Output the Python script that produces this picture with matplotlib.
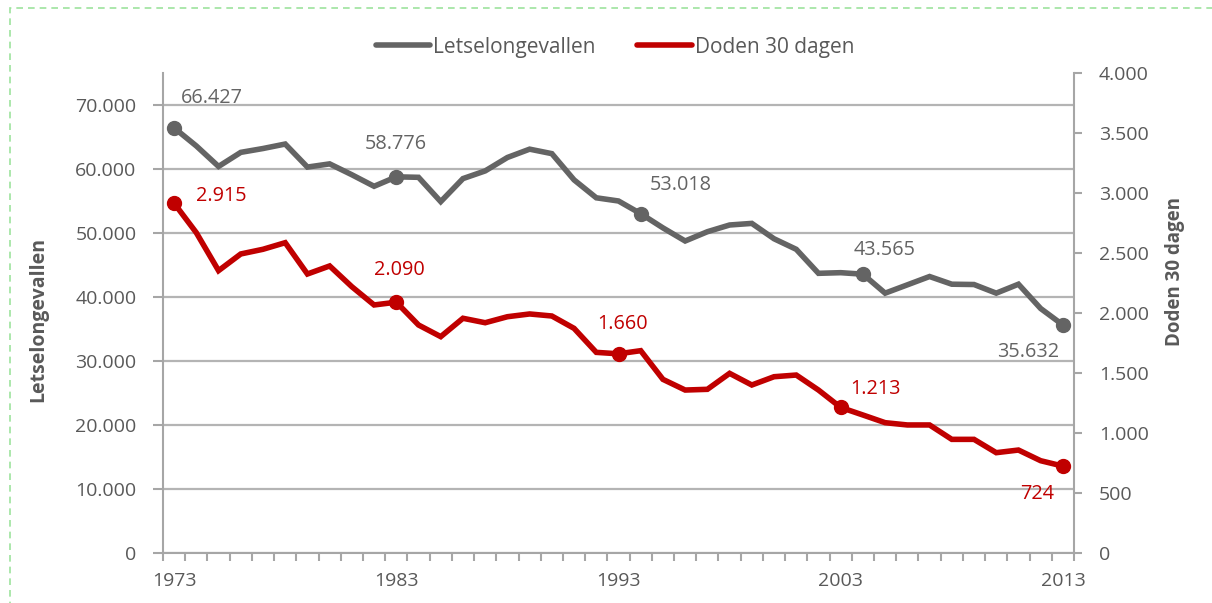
import matplotlib
matplotlib.use("Agg")
import matplotlib.pyplot as plt
from matplotlib.ticker import FuncFormatter, FixedLocator
from matplotlib.lines import Line2D
from matplotlib.patches import Rectangle

years = list(range(1973, 2014))
letsel = [66427, 63600, 60400, 62600, 63200, 63900, 60300, 60800, 59100, 57300,
          58776, 58700, 54900, 58500, 59700, 61800, 63100, 62400, 58300, 55500,
          55000, 53018, 50800, 48750, 50200, 51250, 51500, 49100, 47450, 43700,
          43800, 43565, 40600, 41900, 43200, 42000, 41950, 40600, 42000, 38200,
          35632]
doden = [2915, 2669, 2353, 2492, 2531, 2586, 2325, 2392, 2219, 2067,
         2090, 1900, 1803, 1956, 1919, 1969, 1992, 1975, 1872, 1672,
         1660, 1686, 1447, 1358, 1364, 1497, 1400, 1469, 1483, 1358,
         1213, 1150, 1086, 1067, 1067, 947, 947, 836, 858, 769,
         724]
label_years_letsel = [1973, 1983, 1994, 2004, 2013]
label_years_doden = [1973, 1983, 1993, 2003, 2013]
xtick_labels = [1973, 1983, 1993, 2003, 2013]
series_names = ["Letselongevallen", "Doden 30 dagen"]

GREY = "#646464"
RED = "#C00000"
TXT = "#595959"
AX = "#A6A6A6"
FONT = "Open Sans"
plt.rcParams['font.family'] = [FONT, 'DejaVu Sans']

W, H = 1212, 603
fig = plt.figure(figsize=(W / 100, H / 100), dpi=100)
ax = fig.add_axes([163 / W, 1 - 553 / H, (1074 - 163) / W, (553 - 73) / H])
ax2 = ax.twinx()

def dots(v, pos):
    return f"{int(round(v)):,}".replace(",", ".")

fmt = FuncFormatter(dots)

ax.set_xlim(1972.5, 2013.5)
ax.set_ylim(0, 75000)
ax2.set_ylim(0, 4000)
ax.yaxis.set_major_locator(FixedLocator(list(range(0, 70001, 10000))))
ax2.yaxis.set_major_locator(FixedLocator(list(range(0, 4001, 500))))
ax.yaxis.set_major_formatter(fmt)
ax2.yaxis.set_major_formatter(fmt)

ax.set_xticks(xtick_labels)
ax.set_xticklabels([str(y) for y in xtick_labels])
ax.set_xticks([1972.5 + k for k in range(42)], minor=True)
ax.tick_params(axis='x', which='major', length=0, pad=14, labelsize=14, labelcolor=TXT)
ax.tick_params(axis='x', which='minor', length=6, width=1.5, color=AX, direction='out')
ax.tick_params(axis='y', length=7, width=1.5, color=AX, pad=12, labelsize=14, labelcolor=TXT)
ax2.tick_params(axis='y', length=6, width=1.5, color=AX, pad=12, labelsize=14, labelcolor=TXT)

ax.grid(axis='y', color="#B4B4B4", linewidth=1.6)
ax.set_axisbelow(True)
for a in (ax, ax2):
    a.spines['top'].set_visible(False)
    for s in ('left', 'right', 'bottom'):
        a.spines[s].set_color(AX)
        a.spines[s].set_linewidth(1.5)
ax2.spines['left'].set_visible(False)
ax2.spines['bottom'].set_visible(False)
ax.spines['right'].set_visible(False)

ax.plot(years, letsel, color=GREY, linewidth=4.0, solid_joinstyle='miter', zorder=3)
ax2.plot(years, doden, color=RED, linewidth=4.0, solid_joinstyle='miter', zorder=3)

lx = [years.index(y) for y in label_years_letsel]
dx = [years.index(y) for y in label_years_doden]
ax.plot([years[i] for i in lx], [letsel[i] for i in lx], 'o', color=GREY, markersize=10, zorder=4)
ax2.plot([years[i] for i in dx], [doden[i] for i in dx], 'o', color=RED, markersize=10, zorder=4)

off_l = [(38, 30), (0, 33), (40, 29), (22, 24), (-35, -27)]
off_d = [(47, 7), (3, 32), (4, 30), (35, 18), (-26, -28)]
for i, o in zip(lx, off_l):
    ax.annotate(dots(letsel[i], None), (years[i], letsel[i]), xytext=o,
                textcoords='offset pixels', ha='center', va='center',
                fontsize=14.3, color=GREY, zorder=5)
for i, o in zip(dx, off_d):
    ax2.annotate(dots(doden[i], None), (years[i], doden[i]), xytext=o,
                 textcoords='offset pixels', ha='center', va='center',
                 fontsize=14.3, color=RED, zorder=5)

fig.text(38 / W, 1 - 320 / H, series_names[0], rotation=90, ha='center', va='center',
         fontsize=14, fontweight='bold', color=TXT)
fig.text(1175 / W, 1 - 271 / H, series_names[1], rotation=90, ha='center', va='center',
         fontsize=13.5, fontweight='bold', color=TXT)

handles = [Line2D([], [], color=GREY, linewidth=4.0, solid_capstyle='round'),
           Line2D([], [], color=RED, linewidth=4.0, solid_capstyle='round')]
leg = fig.legend(handles, series_names, loc='center', bbox_to_anchor=(615 / W, 1 - 47 / H),
                 ncol=2, frameon=False, fontsize=15, handlelength=2.6, handletextpad=0.15,
                 columnspacing=2.0)
for t in leg.get_texts():
    t.set_color(TXT)

fig.add_artist(Rectangle((10 / W, -0.1), 1.2, 1 - 8 / H + 0.1, transform=fig.transFigure,
                         fill=False, edgecolor="#9DE39D", linewidth=1.2, linestyle=(0, (4, 3))))

fig.savefig("out.png", dpi=100)
